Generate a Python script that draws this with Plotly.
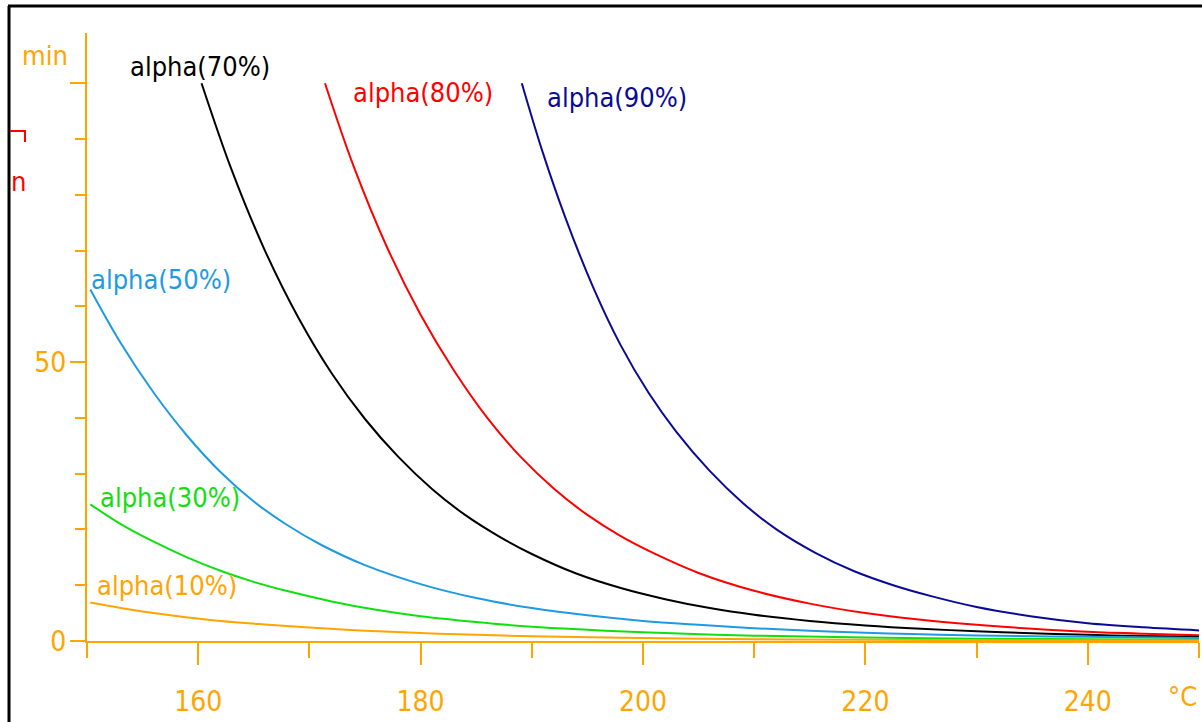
import plotly.graph_objects as go

# Time (min) needed to reach a given degree of conversion alpha, versus temperature (°C)
temp_10 = [150.3, 154.0, 158.0, 162.0, 166.0, 170.0, 175.0, 180.0, 185.0, 190.0, 200.0, 210.0, 220.0, 235.0, 250.0]
time_10 = [6.9, 5.6, 4.5, 3.6, 2.95, 2.4, 1.85, 1.42, 1.1, 0.85, 0.52, 0.33, 0.22, 0.13, 0.08]

temp_30 = [150.3, 153.0, 156.0, 159.0, 162.0, 165.0, 168.0, 172.0, 176.0, 180.0, 185.0, 190.0, 195.0, 200.0, 210.0, 220.0, 230.0, 240.0, 250.0]
time_30 = [24.5, 21.0, 17.8, 15.0, 12.6, 10.6, 8.95, 7.1, 5.6, 4.45, 3.4, 2.55, 2.0, 1.55, 0.95, 0.62, 0.42, 0.3, 0.22]

temp_50 = [150.3, 153.0, 156.0, 159.0, 162.0, 165.0, 168.0, 171.0, 175.0, 180.0, 185.0, 190.0, 195.0, 200.0, 205.0, 210.0, 215.0, 220.0, 225.0, 230.0, 240.0, 250.0]
time_50 = [63.0, 53.5, 44.5, 36.8, 30.3, 25.0, 20.8, 17.3, 13.6, 10.2, 7.7, 5.9, 4.6, 3.6, 2.9, 2.3, 1.85, 1.5, 1.2, 1.0, 0.75, 0.55]

temp_70 = [160.3, 163.0, 166.0, 169.0, 172.0, 175.0, 178.0, 181.0, 184.0, 187.0, 190.0, 194.0, 198.0, 202.0, 206.0, 210.0, 215.0, 220.0, 225.0, 230.0, 235.0, 240.0, 245.0, 250.0]
time_70 = [100.0, 84.5, 70.0, 58.0, 48.0, 39.8, 33.0, 27.3, 22.6, 18.8, 15.6, 12.1, 9.5, 7.5, 5.9, 4.7, 3.6, 2.8, 2.2, 1.75, 1.4, 1.1, 0.9, 0.72]

temp_80 = [171.4, 174.0, 177.0, 180.0, 183.0, 186.0, 189.0, 192.0, 195.0, 198.0, 201.0, 205.0, 210.0, 215.0, 220.0, 225.0, 230.0, 235.0, 240.0, 245.0, 250.0]
time_80 = [100.0, 85.0, 70.5, 58.5, 48.5, 40.0, 33.0, 27.3, 22.6, 18.8, 15.7, 12.2, 9.0, 6.7, 5.0, 3.8, 2.9, 2.2, 1.65, 1.3, 1.05]

temp_90 = [189.1, 191.0, 193.0, 195.5, 198.0, 200.5, 203.0, 206.0, 209.0, 212.0, 215.5, 219.0, 222.5, 226.0, 230.0, 235.0, 240.0, 245.0, 250.0]
time_90 = [100.0, 87.5, 76.0, 63.5, 53.0, 44.5, 37.5, 30.5, 24.7, 20.0, 15.8, 12.5, 10.0, 8.0, 6.1, 4.4, 3.2, 2.45, 1.9]

x_major = [160, 180, 200, 220, 240]
x_minor = [150, 170, 190, 210, 230, 250]
y_major = [0, 50, 100]
y_major_text = ["0", "50", ""]
y_minor = [10, 20, 30, 40, 60, 70, 80, 90]

ORANGE = "#FFA500"
FONT = "DejaVu Sans Condensed, DejaVu Sans, sans-serif"

W, H = 1202, 722
ML, MR, MT, MB = 87, 3, 33, 81
PW, PH = W - ML - MR, H - MT - MB


def paper_x(px):
    return (px - ML) / PW


def paper_y(py):
    return (H - MB - py) / PH


# name, temperatures, times, colour, label placement (xanchor, xshift, yshift)
series = [
    ("alpha(90%)", temp_90, time_90, "#0A0A96", ("left", 23, -14)),
    ("alpha(80%)", temp_80, time_80, "#FF0000", ("left", 26, -9)),
    ("alpha(70%)", temp_70, time_70, "#000000", ("center", -2, 17)),
    ("alpha(50%)", temp_50, time_50, "#1E9BE0", ("left", -1, 10)),
    ("alpha(30%)", temp_30, time_30, "#10E010", ("left", 8, 7)),
    ("alpha(10%)", temp_10, time_10, ORANGE, ("left", 5, 17)),
]

fig = go.Figure()
annotations = []
for name, tx, ty, color, (xa, xs, ys) in series:
    fig.add_trace(go.Scatter(
        x=tx, y=ty, mode="lines", name=name,
        line=dict(color=color, width=2, shape="spline", smoothing=1.0),
        hoverinfo="x+y+name",
    ))
    annotations.append(dict(
        x=tx[0], y=ty[0], xref="x", yref="y", text=name, showarrow=False,
        xanchor=xa, yanchor="middle", xshift=xs, yshift=ys,
        font=dict(family=FONT, size=27, color=color),
    ))

# axis units
annotations += [
    dict(x=paper_x(45), y=paper_y(55), xref="paper", yref="paper", text="min",
         showarrow=False, xanchor="center", yanchor="middle",
         font=dict(family=FONT, size=27, color=ORANGE)),
    dict(x=paper_x(1182), y=paper_y(696), xref="paper", yref="paper", text="°C",
         showarrow=False, xanchor="center", yanchor="middle",
         font=dict(family=FONT, size=27, color=ORANGE)),
    dict(x=paper_x(18), y=paper_y(182), xref="paper", yref="paper", text="n",
         showarrow=False, xanchor="center", yanchor="middle",
         font=dict(family=FONT, size=27, color="#FF0000")),
]

shapes = [
    # frame on the top and left edges
    dict(type="line", xref="paper", yref="paper",
         x0=paper_x(8), x1=paper_x(W), y0=paper_y(6), y1=paper_y(6),
         line=dict(color="black", width=3)),
    dict(type="line", xref="paper", yref="paper",
         x0=paper_x(9), x1=paper_x(9), y0=paper_y(6), y1=paper_y(H),
         line=dict(color="black", width=3)),
    # red bracket of the secondary axis label
    dict(type="path", xref="paper", yref="paper",
         path=f"M {paper_x(10)} {paper_y(131)} L {paper_x(25)} {paper_y(131)} L {paper_x(25)} {paper_y(142)}",
         line=dict(color="#FF0000", width=2)),
]

fig.update_layout(
    width=W, height=H,
    margin=dict(l=ML, r=MR, t=MT, b=MB, pad=0),
    paper_bgcolor="white", plot_bgcolor="white",
    showlegend=False,
    annotations=annotations,
    shapes=shapes,
    font=dict(family=FONT, size=27, color=ORANGE),
    xaxis=dict(
        range=[150, 250], showgrid=False, zeroline=False,
        showline=True, linecolor=ORANGE, linewidth=2,
        tickmode="array", tickvals=x_major, ticks="outside",
        ticklen=22, tickwidth=2, tickcolor=ORANGE,
        tickfont=dict(family=FONT, size=28, color=ORANGE),
        ticklabelstandoff=12,
        minor=dict(tickmode="array", tickvals=x_minor, ticks="outside",
                   ticklen=15, tickwidth=2, tickcolor=ORANGE),
    ),
    yaxis=dict(
        range=[0, 109], showgrid=False, zeroline=False,
        showline=True, linecolor=ORANGE, linewidth=2,
        tickmode="array", tickvals=y_major, ticktext=y_major_text, ticks="outside",
        ticklen=15, tickwidth=2, tickcolor=ORANGE,
        tickfont=dict(family=FONT, size=28, color=ORANGE),
        ticklabelstandoff=-2,
        minor=dict(tickmode="array", tickvals=y_minor, ticks="outside",
                   ticklen=10, tickwidth=2, tickcolor=ORANGE),
    ),
)

fig.write_html("out.html")
